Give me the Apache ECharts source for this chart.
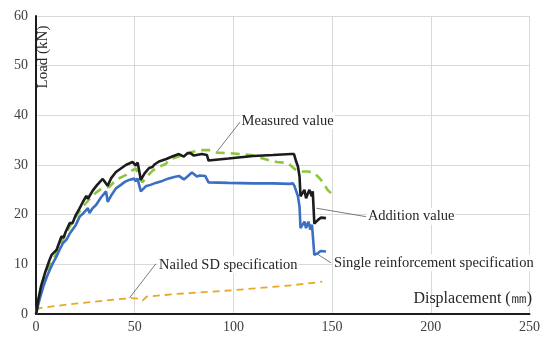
<!DOCTYPE html>
<html>
<head>
<meta charset="utf-8">
<script src="https://cdn.jsdelivr.net/npm/echarts@6/dist/echarts.min.js"></script>
<style>html,body{margin:0;padding:0;background:#fff}#c{width:543px;height:339px}</style>
</head>
<body>
<div id="c"></div>
<script>
var xTicks = [0, 50, 100, 150, 200, 250];
var yTicks = [0, 10, 20, 30, 40, 50, 60];
var seriesNames = ['Addition value', 'Single reinforcement specification', 'Measured value', 'Nailed SD specification'];

var additionValue = [[0,0],[0.3,0.5],[1,2.5],[2.5,5.5],[4.5,8.2],[6.5,10.5],[7.9,11.9],[10.4,12.9],[12.9,15.6],[14,15.4],[15,16.5],[17.1,18.3],[18.5,18.3],[20,19.8],[22,21.2],[23.8,22.6],[25.5,23.8],[26.3,23.2],[28.8,24.9],[31,26],[33.8,27.2],[34.5,27.4],[36.3,25.8],[38,27.3],[40.5,28.6],[43,29.3],[45.5,30],[47.2,30.3],[48.9,30.6],[50.6,29.9],[51.5,30.5],[52.3,30.3],[53.1,27],[55,28.3],[57.3,29.4],[59,29.6],[60,30.1],[62.3,30.7],[66,31.2],[69,31.7],[72.4,32.2],[74.9,31.7],[76.5,32.3],[78.2,32.4],[80,31.9],[84,32.2],[86.6,32],[87.4,30.9],[97.5,31.3],[110,31.8],[120,32],[129.3,32.2],[130.7,32.2],[131.8,30.7],[132.7,29.7],[133.5,27.7],[134,23.7],[136,25],[136.8,23.3],[138.5,25],[139.7,23.7],[140.2,24.7],[141,18.2],[141.9,18.6],[143,19],[144.4,19.4],[146.9,19.3]];

var singleReinforcement = [[0,0],[0.3,0.5],[1.5,2.5],[3.7,5.5],[5.5,7.5],[7,8.9],[8.5,10.2],[10.4,11.6],[12,13],[13.7,14.3],[14.5,13.9],[15.5,15],[17.1,16.2],[18,15.9],[20,17.8],[22.1,19.6],[24,20.3],[26.3,21.3],[27.1,20.3],[28.5,21.2],[30.5,22],[33,23.5],[35.5,24.7],[36.3,22.6],[38,23.8],[40.5,25.3],[43,26],[45,26.6],[47.2,27],[49.7,27.3],[50.5,26.7],[51.4,27.3],[52.3,27.1],[53.1,24.7],[55.6,25.7],[58,26],[60.6,26.4],[64,26.8],[67.3,27.3],[70,27.6],[72.4,27.8],[74.9,27.1],[77,27.8],[79,28.5],[81.5,27.7],[83,27.9],[85.7,27.8],[87.4,26.5],[97.5,26.4],[110,26.3],[120,26.3],[128.5,26.2],[130.2,26.3],[131,25.7],[132.7,23.7],[133.5,21.6],[134,17.3],[136,18.6],[136.8,17.3],[138,18.6],[139,17],[139.8,18],[141,11.9],[142.6,12.2],[144.2,12.7],[146.9,12.6]];

var measuredValue = [[0,0],[1,2.5],[3,6],[5,8.3],[7,9.9],[10,12],[12.9,14.6],[15,16],[17.1,17.6],[20,19.5],[23.8,21.6],[27,23.1],[30,24.3],[33,25.2],[37.2,25.6],[40.5,27],[45.6,28],[47.2,28.6],[50.6,29.3],[52.3,27.5],[53.9,26.5],[56,27.6],[58.9,28.8],[62,29.6],[65.7,30.2],[67.3,31],[70.7,31.5],[76.5,32.4],[80,32.7],[83.2,33],[88.3,33],[91.6,32.5],[100,32.3],[109.2,32],[117.6,31],[122,30.6],[127.6,30.4],[131,29.2],[133.5,28.7],[137.7,28.7],[141,28.4],[144.4,27],[147.7,25],[151.1,23.7]];

var nailedSD = [[0,0.8],[2,1.2],[10,1.6],[20,2.1],[30,2.5],[40,2.9],[48,3.2],[52,3.1],[54,2.7],[56,3.5],[70,4],[85,4.4],[100,4.8],[115,5.3],[130,5.8],[145,6.5]];

// callout annotations: [leader start on curve], [leader end], [label anchor]
var callouts = [
  {from:[142,21.3], to:[167.2,19.6], at:[167.6,19.7]},
  {from:[142,12.2], to:[149.5,10.3], at:[150.4,10.3]},
  {from:[91.7,32.7], to:[103.5,38.7], at:[103.6,38.9]},
  {from:[47.3,3.2], to:[60.7,10.1], at:[61.8,9.9]}
];

var FONT = '"Liberation Serif","Times New Roman",serif';
var colors = ['#1c1c1c', '#3c6fc1', '#8cc63f', '#e8a823'];
var styles = [
  {width:2.6, type:'solid'},
  {width:2.6, type:'solid'},
  {width:2.6, type:[9,6]},
  {width:1.8, type:[7,5]}
];
var datasets = [additionValue, singleReinforcement, measuredValue, nailedSD];

var series = datasets.map(function (d, i) {
  var c = callouts[i];
  return {
    name: seriesNames[i],
    type: 'line',
    data: d,
    showSymbol: false,
    symbol: 'none',
    z: 10 - i,
    lineStyle: {color: colors[i], width: styles[i].width, type: styles[i].type},
    markLine: {
      silent: true,
      symbol: ['none', 'none'],
      label: {show: false},
      lineStyle: {color: '#595959', width: 0.8, type: 'solid'},
      data: [[{coord: c.from}, {coord: c.to}]]
    },
    markPoint: {
      silent: true,
      symbol: 'circle',
      symbolSize: 0.1,
      itemStyle: {color: 'rgba(0,0,0,0)'},
      label: {
        show: true,
        position: 'right',
        distance: 0,
        formatter: seriesNames[i],
        color: '#262626',
        fontFamily: FONT,
        fontSize: 14.5,
        backgroundColor: '#ffffff',
        padding: [1, 1]
      },
      data: [{coord: c.at}]
    }
  };
});

var chart = echarts.init(document.getElementById('c'), null, {renderer: 'canvas'});
chart.setOption({
  animation: false,
  backgroundColor: '#ffffff',
  grid: {left: 36, right: 11, top: 16, bottom: 25, containLabel: false},
  xAxis: {
    type: 'value', min: xTicks[0], max: xTicks[xTicks.length - 1], interval: 50,
    axisLine: {onZero: false, lineStyle: {color: '#1c1c1c', width: 2}},
    axisTick: {show: false},
    axisLabel: {color: '#404040', fontFamily: FONT, fontSize: 14, margin: 6},
    splitLine: {show: true, lineStyle: {color: '#d9d9d9', width: 1}}
  },
  yAxis: {
    type: 'value', min: yTicks[0], max: yTicks[yTicks.length - 1], interval: 10,
    axisLine: {show: true, lineStyle: {color: '#1c1c1c', width: 2}},
    axisTick: {show: false},
    axisLabel: {color: '#404040', fontFamily: FONT, fontSize: 14, margin: 8},
    splitLine: {show: true, lineStyle: {color: '#d9d9d9', width: 1}}
  },
  graphic: [
    {type: 'text', x: 43, y: 57, rotation: Math.PI / 2, z: 100,
     style: {text: 'Load (kN)', fill: '#262626', font: '15px ' + FONT, align: 'center', verticalAlign: 'middle'}},
    {type: 'text', x: 532, y: 299, z: 100,
     style: {text: 'Displacement (\u339C)', fill: '#262626', font: '16px ' + FONT, align: 'right', verticalAlign: 'middle'}}
  ],
  series: series
});
</script>
</body>
</html>
